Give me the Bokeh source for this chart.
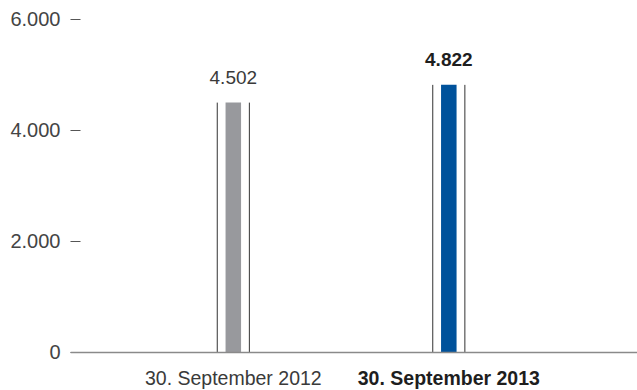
from bokeh.plotting import figure
from bokeh.models import ColumnDataSource, FixedTicker, Span
from bokeh.embed import file_html
from bokeh.resources import INLINE
from bokeh.core.properties import value

categories = ["30. September 2012", "30. September 2013"]
values = [4502, 4822]
value_labels = ["4.502", "4.822"]
bar_colors = ["#98999d", "#00529b"]
label_styles = ["normal", "bold"]
label_colors = ["#3a3a3a", "#1e1e1e"]
y_ticks = [0, 2000, 4000, 6000]
y_tick_labels = ["0", "2.000", "4.000", "6.000"]

xs = [1, 2]
half_gap = 0.0745
bar_w = 0.072

src = ColumnDataSource(dict(
    x=xs, top=values, color=bar_colors, vlabel=value_labels,
    cat=categories, style=label_styles, tcolor=label_colors,
    xl=[x - half_gap for x in xs], xr=[x + half_gap for x in xs],
    zero=[0, 0],
))

p = figure(width=637, height=390, output_backend="svg", toolbar_location=None,
           x_range=(0.2445, 2.8756), y_range=(-685, 6342),
           x_axis_location=None, min_border_left=70, min_border_right=0,
           min_border_top=0, min_border_bottom=0)
p.outline_line_color = None
p.xgrid.visible = False
p.ygrid.visible = False
p.background_fill_color = "white"
p.border_fill_color = "white"

yax = p.yaxis[0]
yax.ticker = FixedTicker(ticks=y_ticks)
yax.major_label_overrides = {t: l for t, l in zip(y_ticks, y_tick_labels)}
yax.axis_line_color = None
yax.minor_tick_line_color = None
yax.major_tick_in = 10
yax.major_tick_out = 0
yax.major_tick_line_color = "#555555"
yax.major_tick_line_width = 1.2
yax.major_label_standoff = 10
yax.major_label_text_font = "Liberation Sans"
yax.major_label_text_font_size = "20px"
yax.major_label_text_color = "#444444"

p.vbar(x="x", top="top", bottom=0, width=bar_w, color="color", source=src, line_color=None)
p.segment(x0="xl", y0="zero", x1="xl", y1="top", source=src, line_color="#333333", line_width=1)
p.segment(x0="xr", y0="zero", x1="xr", y1="top", source=src, line_color="#333333", line_width=1)

p.add_layout(Span(location=0, dimension="width", line_color="#8a8a8a", line_width=1.5))

p.text(x="x", y="top", text="vlabel", source=src, y_offset=-25,
       text_align="center", text_baseline="middle",
       text_font=value("Liberation Sans"), text_font_size="19px",
       text_font_style="style", text_color="tcolor")
p.text(x="x", y="zero", text="cat", source=src, y_offset=26,
       text_align="center", text_baseline="middle",
       text_font=value("Liberation Sans"), text_font_size="19.5px",
       text_font_style="style", text_color="tcolor")

open("out.html", "w").write(file_html(p, INLINE))
